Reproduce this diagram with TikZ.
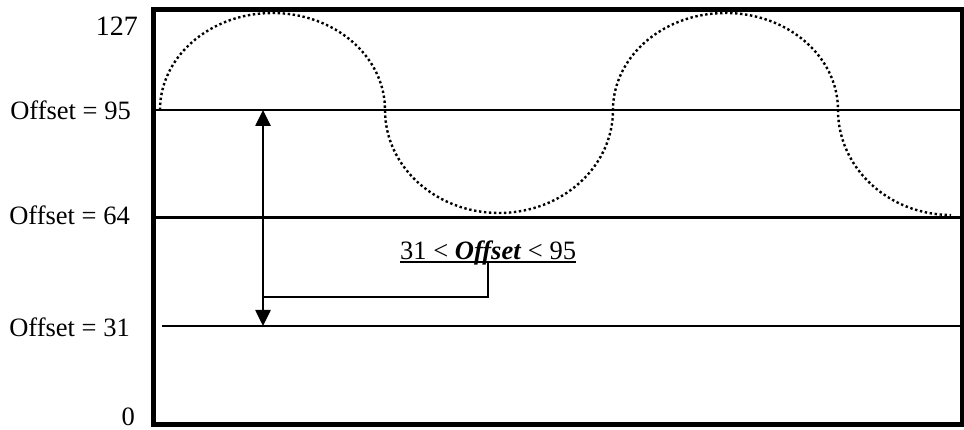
\documentclass[tikz,border=0pt]{standalone}
\usepackage{fontspec}
\setmainfont{Liberation Serif}
\usepackage{tikz}
\usetikzlibrary{arrows.meta,positioning,calc}

\begin{document}
\begin{tikzpicture}[
    x=1pt, y=1pt,
    frame/.style={draw, line width=5pt},
    levelline/.style={line width=2.4pt},
    lbl/.style={inner sep=0pt, font=\fontsize{26.5}{31}\selectfont},
    dimarrow/.style={line width=2.6pt, {Triangle[width=15pt,length=16pt]}-{Triangle[width=15pt,length=16pt]}},
    leader/.style={line width=1.5pt},
    signal/.style={line width=2.4pt, dash pattern=on 2.4pt off 2.6pt}
]
    \useasboundingbox (0,0) rectangle (964,430);
    \draw[frame] (153.5,5) rectangle (962,420);

    % scale labels
    \node[lbl, anchor=base east, font=\fontsize{28}{32}\selectfont] (top) at (138,394) {127};
    \node[lbl, anchor=base east] (o95) at (131,310.5) {Offset = 95};
    \node[lbl, anchor=base east] (o64) at (130,205.5) {Offset = 64};
    \node[lbl, anchor=base east] (o31) at (130,93.5) {Offset = 31};
    \node[lbl, anchor=base east] (bot) at (135,4.5) {0};

    % level lines
    \coordinate (l95) at (155,320);
    \coordinate (r95) at (960,320);
    \coordinate (l64) at (155,212.5);
    \coordinate (r64) at (960,212.5);
    \coordinate (l31) at (162,104);
    \coordinate (r31) at (960,104);
    \draw[levelline] (l95) -- (r95);
    \draw[levelline] (l64) -- (r64);
    \draw[levelline] (l31) -- (r31);

    % signal
    \draw[signal] (160,320)
        arc[start angle=180, end angle=0, x radius=112.5pt, y radius=97pt]
        arc[start angle=180, end angle=360, x radius=114pt, y radius=103pt]
        arc[start angle=180, end angle=0, x radius=112.5pt, y radius=97pt]
        arc[start angle=180, end angle=270, x radius=113pt, y radius=105pt];

    % offset range
    \coordinate (a95) at (263,320);
    \coordinate (a31) at (263,104);
    \coordinate (tick) at (262,133);
    \draw[dimarrow] (a95) -- (a31);

    \node[lbl, anchor=base west] (range) at (400,170) {31 < \textbf{\textit{Offset}} < 95};
    \draw[leader] ([yshift=-2pt]range.base west) -- ([yshift=-2pt]range.base east);
    \draw[leader] ([yshift=-2pt]range.base) |- (tick);
\end{tikzpicture}
\end{document}
